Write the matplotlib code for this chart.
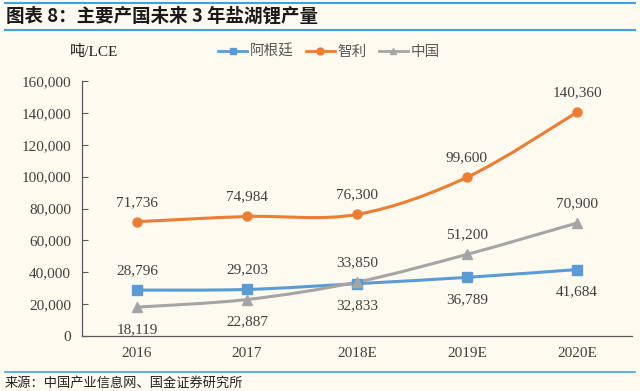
import matplotlib
matplotlib.use("Agg")
import matplotlib.pyplot as plt
from matplotlib.path import Path
from matplotlib.patches import PathPatch
from matplotlib.lines import Line2D
import numpy as np

categories = ["2016", "2017", "2018E", "2019E", "2020E"]
argentina = [28796, 29203, 32833, 36789, 41684]
chile = [71736, 74984, 76300, 99600, 140360]
china = [18119, 22887, 33850, 51200, 70900]
series_names = ["阿根廷", "智利", "中国"]
yticks = [0, 20000, 40000, 60000, 80000, 100000, 120000, 140000, 160000]

BG = "#FFFAF0"
BLUE = "#5B9BD5"
ORANGE = "#ED7D31"
GRAY = "#A5A5A5"
TXT = "#404040"
LINE = "#3FA3DC"

plt.rcParams['font.family'] = ['Liberation Serif', 'Noto Sans CJK SC', 'DejaVu Sans']

fig = plt.figure(figsize=(6.4, 3.91), dpi=100, facecolor=BG)
ax = fig.add_axes([82/640, 1-336/391, 550/640, 255/391])
ax.set_facecolor(BG)

x = np.arange(len(categories))

def smooth_path(xs, ys, t=1/6):
    verts = [(xs[0], ys[0])]
    codes = [Path.MOVETO]
    n = len(xs)
    for i in range(n - 1):
        p0 = (xs[max(i-1, 0)], ys[max(i-1, 0)])
        p1 = (xs[i], ys[i])
        p2 = (xs[i+1], ys[i+1])
        p3 = (xs[min(i+2, n-1)], ys[min(i+2, n-1)])
        c1 = (p1[0] + (p2[0]-p0[0])*t, p1[1] + (p2[1]-p0[1])*t)
        c2 = (p2[0] - (p3[0]-p1[0])*t, p2[1] - (p3[1]-p1[1])*t)
        verts += [c1, c2, p2]
        codes += [Path.CURVE4]*3
    return Path(verts, codes)

styles = [(argentina, BLUE, 's'), (chile, ORANGE, 'o'), (china, GRAY, '^')]
for vals, col, mk in styles:
    ax.add_patch(PathPatch(smooth_path(x, vals), facecolor='none', edgecolor=col, lw=2.2, zorder=3))
    ax.plot(x, vals, linestyle='none', marker=mk, color=col, markersize=6.5, zorder=4)

# labels: offset in points (positive above)
arg_off = [14, 14, -16, -16, -16]
chi_off = [14, 14, 14, 14, 14]
cn_off = [-16, -16, 14, 14, 14]
for vals, offs in [(argentina, arg_off), (chile, chi_off), (china, cn_off)]:
    for xi, v, o in zip(x, vals, offs):
        ax.annotate(f"{v:,}", (xi, v), xytext=(0, o), textcoords='offset points',
                    ha='center', va='center', fontsize=11, color=TXT)

ax.set_xlim(-0.5, len(categories) - 0.5)
ax.set_ylim(0, 160000)
ax.set_yticks(yticks)
ax.set_yticklabels([f"{v:,}" for v in yticks], fontsize=11, color=TXT)
ax.set_xticks(x)
ax.set_xticklabels(categories, fontsize=11, color=TXT)
ax.tick_params(axis='x', length=0, pad=8)
ax.tick_params(axis='y', direction='in', length=4, color='#595959', pad=8)
for s in ['top', 'right']:
    ax.spines[s].set_visible(False)
for s in ['left', 'bottom']:
    ax.spines[s].set_color('#595959')
    ax.spines[s].set_linewidth(0.9)

handles = [Line2D([0], [0], color=c, marker=m, lw=2.0, markersize=5) for _, c, m in styles]
leg = fig.legend(handles, series_names, loc='center', bbox_to_anchor=(329/640, 1-52/391),
                 ncol=3, frameon=False, fontsize=10.5, handlelength=2.0, columnspacing=0.8,
                 handletextpad=0.2)
for t in leg.get_texts():
    t.set_color('#595959')
    t.set_family(['Noto Sans CJK SC'])

fig.text(94/640, 1-52/391, "吨/LCE", fontsize=11, color='#222222', va='center', ha='center')

# title & source
fig.add_artist(Line2D([5/640, 635/640], [1-3/391, 1-3/391], color=LINE, lw=1.5))
fig.add_artist(Line2D([5/640, 635/640], [1-30/391, 1-30/391], color=LINE, lw=1.5))
fig.text(6/640, 1-16/391, "图表 8：主要产国未来 3 年盐湖锂产量", fontsize=13.3, fontweight='bold',
         style='italic', color='#1a1a1a', va='center', ha='left',
         family=['Noto Sans CJK SC', 'DejaVu Sans'])
fig.add_artist(Line2D([5/640, 635/640], [1-372/391, 1-372/391], color=LINE, lw=1.2))
fig.text(5/640, 1-383/391, "来源：中国产业信息网、国金证券研究所", fontsize=9.5,
         color='#222222', va='center', ha='left', family=['Noto Sans CJK SC'])

fig.savefig("out.png", dpi=100, facecolor=BG)
